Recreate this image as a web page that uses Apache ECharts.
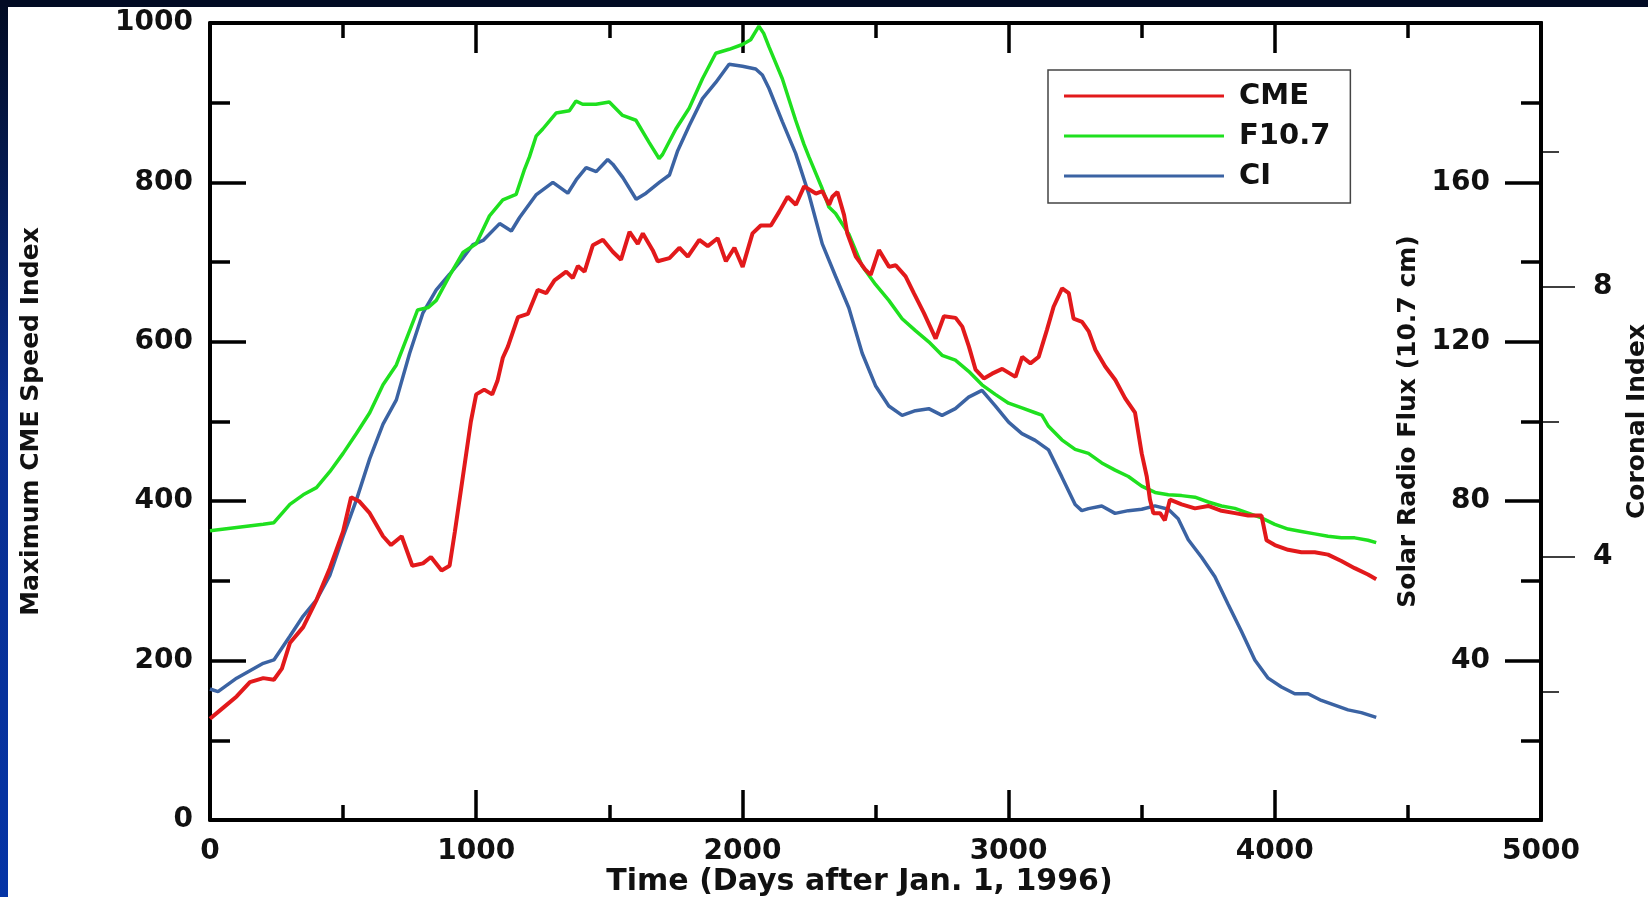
<!DOCTYPE html>
<html>
<head>
<meta charset="utf-8">
<script src="https://cdn.jsdelivr.net/npm/echarts@6/dist/echarts.min.js"></script>
<style>
html,body{margin:0;padding:0;background:#fff;}
#chart{width:1648px;height:897px;}
</style>
</head>
<body>
<div id="chart"></div>
<script>
// ---- Data ----
// CME: Maximum CME Speed Index (left axis)
const cmeDays = [0,50,100,150,200,240,270,300,350,400, 450,500,530,560,600,650,680,720,760,800,
  830,870,900,920,950,980,1000,1030,1060,1080, 1100,1119,1157,1194,1231,1263,1294,1338,1363,1382,
  1407,1438,1476,1513,1544,1576,1607,1626,1663,1682, 1726,1763,1795,1838,1870,1907,1938,1970,2001,2038,
  2069,2107,2138,2170,2201,2232,2276,2300,2326,2338, 2357,2382,2394,2426,2463,2482,2513,2551,2576,2613,
  2644,2682,2726,2757,2801,2826,2851,2876,2907,2938, 2976,3026,3051,3082,3113,3144,3169,3201,3226,3244,
  3276,3301,3326,3363,3401,3438,3475,3500,3519,3531, 3544,3569,3587,3606,3650,3700,3750,3800,3850,3900,
  3950,3969,4000,4050,4100,4150,4200,4250,4300,4350, 4381];
const cmeValues = [127,141,155,173,178,176,190,222,242,276, 316,362,405,400,385,356,345,356,319,322,
  330,313,319,362,431,500,534,540,534,551, 580,594,631,635,665,661,677,688,680,695,
  688,721,728,713,703,738,723,736,715,701, 705,718,707,728,720,730,701,718,694,736,
  746,746,763,782,772,795,786,789,772,782, 788,759,736,707,690,684,715,694,696,682,
  661,636,604,632,630,619,594,565,554,560, 566,556,581,573,581,615,644,667,661,629,
  625,613,590,569,552,529,511,460,431,402, 385,385,376,402,396,391,394,388,385,382,
  382,351,345,339,336,336,333,325,316,308, 302];

// F10.7: Solar Radio Flux (right inner axis)
const f107Days = [0,100,200,240,300,350,400,450,500,550, 600,650,700,750,780,820,850,900,950,1000,
  1050,1100,1150,1180,1200,1225,1250,1300,1350,1375, 1400,1450,1500,1550,1600,1650,1687,1700,1750,1800,
  1850,1900,1950,2000,2031,2062,2080,2100,2150,2200, 2231,2250,2300,2325,2350,2400,2450,2500,2550,2600,
  2650,2700,2750,2800,2850,2900,2950,3000,3050,3100, 3125,3150,3200,3250,3300,3350,3400,3450,3500,3550,
  3600,3650,3700,3750,3800,3850,3900,3950,4000,4050, 4100,4150,4200,4250,4300,4350,4381];
const f107Flux = [72.6,73.4,74.2,74.6,79.2,81.6,83.4,87.4,92.0,97.0, 102.2,109.2,114.2,122.8,128.0,128.6,130.4,136.6,142.4,144.6,
  151.6,155.6,157.0,163.0,166.4,171.6,173.4,177.4,178.0,180.4, 179.6,179.6,180.2,176.8,175.6,170.0,166.0,167.0,173.4,178.6,
  186.0,192.4,193.4,194.6,195.8,199.2,197.4,194.0,186.0,175.6, 169.6,166.4,158.4,153.8,152.2,147.0,139.0,134.4,130.4,125.8,
  122.8,120.0,116.6,115.4,112.6,109.2,106.8,104.6,103.4,102.2, 101.6,98.8,95.4,93.0,92.0,89.6,87.8,86.2,83.8,82.2,
  81.6,81.4,81.0,79.8,78.8,78.2,77.0,75.8,74.2,73.0, 72.4,71.8,71.2,70.8,70.8,70.2,69.6];

// CI: Coronal Index (right outer axis)
const ciDays = [0,30,100,200,240,300,350,400,450,500, 550,600,650,700,750,800,850,900,950,988,
  1026,1088,1132,1163,1226,1288,1344,1376,1413,1451, 1494,1513,1551,1601,1638,1688,1726,1757,1800,1850,
  1900,1950,2000,2050,2075,2100,2150,2200,2250,2300, 2350,2400,2450,2500,2550,2600,2650,2700,2750,2800,
  2850,2900,2950,3000,3050,3100,3150,3200,3250,3275, 3300,3350,3400,3450,3500,3550,3600,3637,3675,3725,
  3775,3825,3875,3925,3975,4025,4075,4125,4175,4225, 4275,4325,4381];
const ciValues = [2.04,2.00,2.20,2.42,2.47,2.82,3.12,3.36,3.72,4.30, 4.84,5.45,5.96,6.32,7.01,7.61,7.95,8.18,8.42,8.62,
  8.68,8.93,8.82,9.02,9.36,9.54,9.38,9.58,9.76,9.70, 9.88,9.81,9.61,9.29,9.38,9.54,9.65,10.01,10.38,10.78,
  11.02,11.29,11.26,11.22,11.13,10.93,10.44,9.97,9.36,8.63, 8.15,7.68,7.01,6.53,6.23,6.09,6.16,6.19,6.09,6.19,
  6.36,6.46,6.23,5.99,5.82,5.72,5.58,5.18,4.77,4.68, 4.71,4.75,4.64,4.68,4.70,4.75,4.70,4.56,4.25,3.99,
  3.70,3.29,2.89,2.47,2.20,2.07,1.97,1.97,1.87,1.80, 1.73,1.69,1.62];

// Axis tick values
const ciMajorTicks = [4, 8];
const ciMinorTicks = [2, 6, 10];
const seriesNames = ['CME', 'F10.7', 'CI'];

// ---- Chart ----
const FONT = "'DejaVu Sans', 'Liberation Sans', sans-serif";
const pair = (xs, ys) => xs.map((x, i) => [x, ys[i]]);
const black = '#000';
const plain = v => String(v);

const chart = echarts.init(document.getElementById('chart'), null, {renderer: 'canvas'});

const tickLine = {color: black, width: 3.5};
const axisLine = {show: true, onZero: false, lineStyle: {color: black, width: 4}};
const option = {
  animation: false,
  backgroundColor: '#ffffff',
  graphic: [
    {type: 'rect', left: 0, top: 0, shape: {width: 8, height: 897}, z: -10,
      style: {fill: new echarts.graphic.LinearGradient(0, 0, 0, 1, [
        {offset: 0, color: '#020b22'}, {offset: 0.45, color: '#0a2f8f'}, {offset: 1, color: '#0534a6'}])}},
    {type: 'rect', left: 0, top: 0, shape: {width: 1648, height: 7}, z: -10, style: {fill: '#020b24'}}
  ],
  grid: {left: 210, right: 107, top: 23, bottom: 77, containLabel: false, outerBoundsMode: 'none'},
  legend: {
    data: seriesNames,
    orient: 'vertical',
    left: 1048, top: 70,
    padding: [11, 20, 12, 16],
    icon: 'rect',
    itemWidth: 160, itemHeight: 3, itemGap: 10,
    backgroundColor: '#fff',
    borderColor: '#444', borderWidth: 1.5, borderRadius: 0,
    textStyle: {fontFamily: FONT, fontWeight: 'bold', fontSize: 29, color: '#111', lineHeight: 30, padding: [0, 0, 0, 10]}
  },
  xAxis: [
    {
      type: 'value', position: 'bottom', min: 0, max: 5000, interval: 1000,
      axisLine: axisLine,
      axisTick: {show: true, inside: true, length: 30, lineStyle: tickLine},
      minorTick: {show: true, splitNumber: 2, length: 15, lineStyle: tickLine},
      splitLine: {show: false},
      axisLabel: {formatter: plain, fontFamily: FONT, fontWeight: 'bold', fontSize: 28, color: '#111', margin: 18},
      name: 'Time (Days after Jan. 1, 1996)', nameLocation: 'middle', nameGap: 47, nameMoveOverlap: false,
      nameTextStyle: {fontFamily: FONT, fontWeight: 'bold', fontSize: 30, color: '#111', padding: [0, 32, 0, 0]}
    },
    {
      type: 'value', position: 'top', min: 0, max: 5000, interval: 1000,
      axisLine: axisLine,
      axisTick: {show: true, inside: true, length: 30, lineStyle: tickLine},
      minorTick: {show: true, splitNumber: 2, length: 15, lineStyle: tickLine},
      splitLine: {show: false},
      axisLabel: {show: false}
    }
  ],
  yAxis: [
    {
      type: 'value', position: 'left', min: 0, max: 1000, interval: 200,
      axisLine: axisLine,
      axisTick: {show: true, inside: true, length: 36, lineStyle: tickLine},
      minorTick: {show: true, splitNumber: 2, length: 20, lineStyle: tickLine},
      splitLine: {show: false},
      axisLabel: {formatter: plain, fontFamily: FONT, fontWeight: 'bold', fontSize: 28, color: '#111', margin: 17},
      name: 'Maximum CME Speed Index', nameLocation: 'middle', nameGap: 166, nameRotate: 90, nameMoveOverlap: false,
      nameTextStyle: {fontFamily: FONT, fontWeight: 'bold', fontSize: 25, color: '#111'}
    },
    {
      type: 'value', position: 'right', min: 0, max: 200, interval: 40,
      axisLine: axisLine,
      axisTick: {show: true, inside: true, length: 36, lineStyle: tickLine},
      minorTick: {show: true, splitNumber: 2, length: 20, lineStyle: tickLine},
      splitLine: {show: false},
      axisLabel: {inside: true, showMinLabel: false, showMaxLabel: false, formatter: plain,
        fontFamily: FONT, fontWeight: 'bold', fontSize: 28, color: '#111', margin: 51},
      name: 'Solar Radio Flux (10.7 cm)', nameLocation: 'middle', nameGap: -145, nameRotate: 90, nameMoveOverlap: false,
      nameTextStyle: {fontFamily: FONT, fontWeight: 'bold', fontSize: 25, color: '#111'}
    },
    {
      type: 'value', position: 'right', offset: 0, min: 0.1, max: 11.9,
      axisLine: axisLine,
      axisTick: {show: true, inside: false, length: 34, customValues: ciMajorTicks, lineStyle: {color: black, width: 1.5}},
      splitLine: {show: false},
      axisLabel: {customValues: ciMajorTicks, formatter: plain, fontFamily: FONT, fontWeight: 'bold', fontSize: 28, color: '#111', margin: 52},
      name: 'Coronal Index', nameLocation: 'middle', nameGap: 84, nameRotate: 90, nameMoveOverlap: false,
      nameTextStyle: {fontFamily: FONT, fontWeight: 'bold', fontSize: 25, color: '#111'}
    },
    {
      type: 'value', position: 'right', offset: 0, min: 0.1, max: 11.9,
      axisLine: axisLine,
      axisTick: {show: true, inside: false, length: 18, customValues: ciMinorTicks, lineStyle: {color: black, width: 1.5}},
      splitLine: {show: false},
      axisLabel: {show: false}
    }
  ],
  series: [
    {name: 'CME', type: 'line', xAxisIndex: 0, yAxisIndex: 0, data: pair(cmeDays, cmeValues),
      symbol: 'none', lineStyle: {color: '#e2191b', width: 4}, itemStyle: {color: '#e2191b'}, z: 4},
    {name: 'F10.7', type: 'line', xAxisIndex: 0, yAxisIndex: 1, data: pair(f107Days, f107Flux),
      symbol: 'none', lineStyle: {color: '#1fe01f', width: 3.5}, itemStyle: {color: '#1fe01f'}, z: 3},
    {name: 'CI', type: 'line', xAxisIndex: 0, yAxisIndex: 2, data: pair(ciDays, ciValues),
      symbol: 'none', lineStyle: {color: '#3b63a3', width: 3.5}, itemStyle: {color: '#3b63a3'}, z: 2}
  ]
};
chart.setOption(option);
</script>
</body>
</html>
